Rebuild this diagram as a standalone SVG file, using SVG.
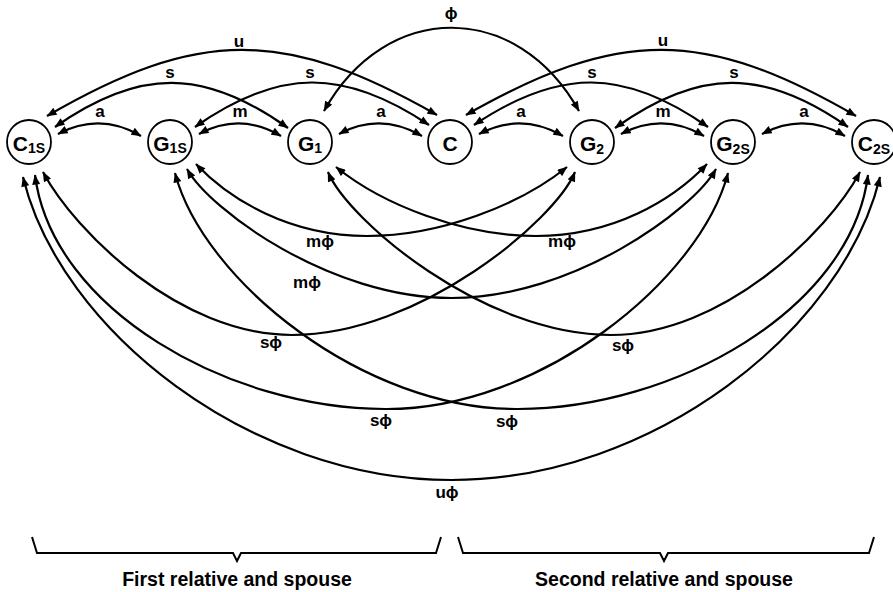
<svg xmlns="http://www.w3.org/2000/svg" width="893" height="592" viewBox="0 0 893 592">
<defs>
<marker id="ah" viewBox="0 0 10 8" refX="9.5" refY="4" markerWidth="11" markerHeight="8" markerUnits="userSpaceOnUse" orient="auto-start-reverse">
<path d="M0,0 L10,4 L0,8 z" fill="#000"/>
</marker>
<style>
.edge{fill:none;stroke:#000;stroke-width:2.2;marker-start:url(#ah);marker-end:url(#ah)}
.node circle{fill:#fff;stroke:#000;stroke-width:1.8}
text{font-family:"Liberation Sans","DejaVu Sans",sans-serif;font-weight:bold;fill:#000}
.nl{font-size:21px;text-anchor:middle}
.sub{font-size:14px}
.lbl{font-size:17px;text-anchor:middle}
.cap{font-size:19.5px;text-anchor:middle}
.brace{fill:none;stroke:#000;stroke-width:2;stroke-linejoin:miter}
</style>
</defs>
<rect width="893" height="592" fill="#fff"/>

<g id="connectors">
<path class="edge" d="M58,134 Q100,112 141,136"/>
<path class="edge" d="M199,134 Q240,112 281,136"/>
<path class="edge" d="M339,134 Q380,112 422,136"/>
<path class="edge" d="M479,134 Q521,112 563,136"/>
<path class="edge" d="M621,134 Q663,112 704,136"/>
<path class="edge" d="M762,134 Q804,112 845,136"/>
<path class="edge" d="M55,127 C139,68 204,68 288,128"/>
<path class="edge" d="M195,127 C279,68 344,68 429,125"/>
<path class="edge" d="M474,125 C559,68 624,68 708,127"/>
<path class="edge" d="M615,128 C699,68 764,68 848,127"/>
<path class="edge" d="M47,116 C199,28 284,28 437,115"/>
<path class="edge" d="M466,115 C619,28 704,28 856,116"/>
<path class="edge" d="M324,111 C386,0 517,0 579,111"/>
<path class="edge" d="M196,164 C230,200 290,236 367,236 C440,236 520,205 567,167"/>
<path class="edge" d="M707,164 C673,200 613,236 536,236 C463,236 383,205 336,167"/>
<path class="edge" d="M187,169 C210,210 330,298 451.5,298 C573,298 693,210 716,169"/>
<path class="edge" d="M43,172 C75,232 180,335 292,335 C420,335 555,220 575,172"/>
<path class="edge" d="M860,172 C828,232 723,335 611,335 C483,335 348,220 328,172"/>
<path class="edge" d="M35,175 C52,310 230,409 385,409 C540,410 700,280 728,173"/>
<path class="edge" d="M868,175 C851,310 673,409 518,409 C363,410 203,280 175,173"/>
<path class="edge" d="M23,177 C60,330 250,480 451.5,480 C653,480 843,330 880,177"/>
</g>

<g id="edge-labels">
<text class="lbl" x="451" y="19">ϕ</text>
<text class="lbl" x="239" y="47">u</text>
<text class="lbl" x="663" y="46">u</text>
<text class="lbl" x="170" y="78">s</text>
<text class="lbl" x="310" y="78">s</text>
<text class="lbl" x="592" y="78">s</text>
<text class="lbl" x="734" y="78">s</text>
<text class="lbl" x="100" y="117">a</text>
<text class="lbl" x="240" y="117">m</text>
<text class="lbl" x="381" y="117">a</text>
<text class="lbl" x="521" y="117">a</text>
<text class="lbl" x="663" y="117">m</text>
<text class="lbl" x="804" y="117">a</text>
<text class="lbl" x="320" y="247">mϕ</text>
<text class="lbl" x="562" y="247">mϕ</text>
<text class="lbl" x="307" y="288">mϕ</text>
<text class="lbl" x="271" y="348">sϕ</text>
<text class="lbl" x="623" y="351">sϕ</text>
<text class="lbl" x="381" y="426">sϕ</text>
<text class="lbl" x="507" y="427">sϕ</text>
<text class="lbl" x="447" y="498">uϕ</text>
</g>

<g id="C1S" class="node"><circle cx="29" cy="142" r="22"/><text class="nl" x="29" y="151">C<tspan class="sub" dy="2">1S</tspan></text></g>
<g id="G1S" class="node"><circle cx="170" cy="142" r="22"/><text class="nl" x="170" y="151">G<tspan class="sub" dy="2">1S</tspan></text></g>
<g id="G1" class="node"><circle cx="310" cy="142" r="22"/><text class="nl" x="310" y="151">G<tspan class="sub" dy="2">1</tspan></text></g>
<g id="C" class="node"><circle cx="450" cy="142" r="22"/><text class="nl" x="450" y="151">C</text></g>
<g id="G2" class="node"><circle cx="592" cy="142" r="22"/><text class="nl" x="592" y="151">G<tspan class="sub" dy="3">2</tspan></text></g>
<g id="G2S" class="node"><circle cx="733" cy="142" r="22"/><text class="nl" x="733" y="151">G<tspan class="sub" dy="3">2S</tspan></text></g>
<g id="C2S" class="node"><circle cx="874" cy="142" r="22"/><text class="nl" x="874" y="151">C<tspan class="sub" dy="3">2S</tspan></text></g>

<g id="braces">
<path class="brace" d="M32,537 L37,553 L233,553 L237,561 L241,553 L436,553 L441,537"/>
<path class="brace" d="M458,537 L463,553 L660,553 L664,561 L668,553 L869,553 L874,537"/>
<text class="cap" x="237" y="586">First relative and spouse</text>
<text class="cap" x="664" y="586">Second relative and spouse</text>
</g>
</svg>
